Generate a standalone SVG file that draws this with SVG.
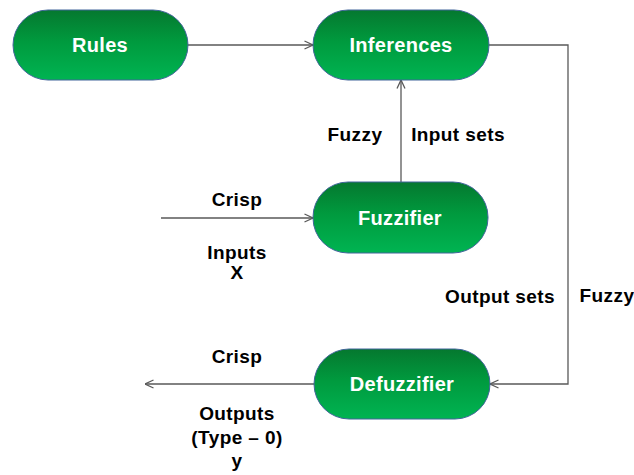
<svg xmlns="http://www.w3.org/2000/svg" width="634" height="475" viewBox="0 0 634 475">
<style>
.node rect{fill:url(#g);stroke:#41659a;stroke-width:1}
.nt{font-family:"Liberation Sans",Arial,sans-serif;font-weight:bold;font-size:20px;letter-spacing:0.3px;fill:#fff;text-anchor:middle;dominant-baseline:central}
.lb{font-family:"Liberation Sans",Arial,sans-serif;font-weight:bold;font-size:19px;letter-spacing:0.4px;fill:#000;text-anchor:middle;dominant-baseline:central}
.c{fill:none;stroke:#595959;stroke-width:1.3}
</style>
<defs>
<linearGradient id="g" x1="0" y1="0" x2="0" y2="1">
<stop offset="0" stop-color="#05782f"/>
<stop offset="0.45" stop-color="#009a3e"/>
<stop offset="1" stop-color="#00b452"/>
</linearGradient>
<marker id="a" viewBox="0 0 10 10" refX="9.5" refY="5" markerWidth="10" markerHeight="10" markerUnits="userSpaceOnUse" orient="auto">
<path d="M1,1 L9.5,5 L1,9" fill="none" stroke="#595959" stroke-width="1.3"/>
</marker>
</defs>
<rect width="634" height="475" fill="#fff"/>
<g id="connectors">
<line class="c" x1="188" y1="45" x2="313" y2="45" marker-end="url(#a)"/>
<line class="c" x1="401" y1="182" x2="401" y2="80" marker-end="url(#a)"/>
<line class="c" x1="161" y1="218" x2="313" y2="218" marker-end="url(#a)"/>
<polyline class="c" points="489,45 568,45 568,384 490,384" marker-end="url(#a)"/>
<line class="c" x1="314" y1="384" x2="145" y2="384" marker-end="url(#a)"/>
</g>
<g id="rules" class="node"><rect x="13" y="10" width="175" height="70" rx="35"/><text class="nt" x="100" y="45">Rules</text></g>
<g id="inferences" class="node"><rect x="313" y="10" width="176" height="70" rx="35"/><text class="nt" x="401" y="45">Inferences</text></g>
<g id="fuzzifier" class="node"><rect x="313" y="182" width="175" height="71" rx="35"/><text class="nt" x="400" y="218">Fuzzifier</text></g>
<g id="defuzzifier" class="node"><rect x="314" y="349" width="176" height="70" rx="35"/><text class="nt" x="402" y="384">Defuzzifier</text></g>
<g id="labels">
<text class="lb" x="355" y="134">Fuzzy</text>
<text class="lb" x="458" y="134">Input sets</text>
<text class="lb" x="237" y="199">Crisp</text>
<text class="lb" x="237" y="252">Inputs</text>
<text class="lb" x="237" y="272">X</text>
<text class="lb" x="500" y="296">Output sets</text>
<text class="lb" x="607" y="295">Fuzzy</text>
<text class="lb" x="237" y="356">Crisp</text>
<text class="lb" x="237" y="413">Outputs</text>
<text class="lb" x="237" y="437">(Type – 0)</text>
<text class="lb" x="237" y="460">y</text>
</g>
</svg>
